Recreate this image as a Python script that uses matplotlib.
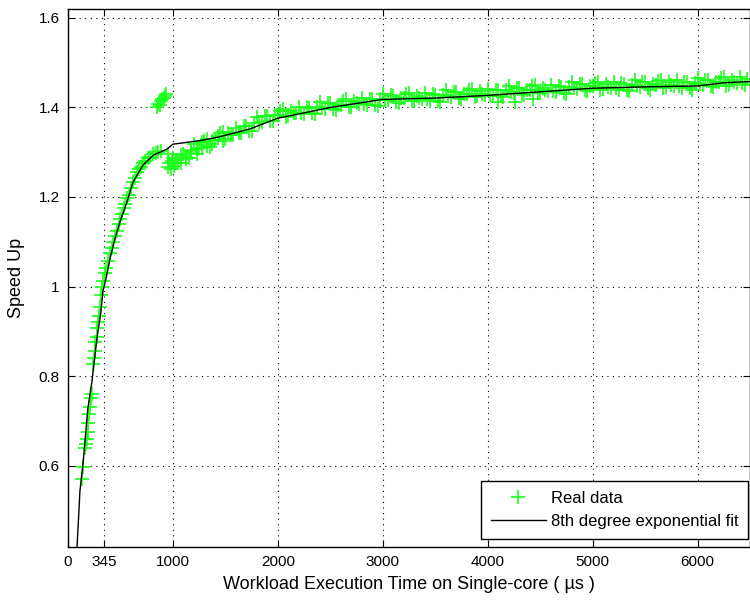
import matplotlib
matplotlib.use("Agg")
import matplotlib.pyplot as plt

# ---- real data: rising part (x in us, speed up) ----
rise_x = [133, 143, 160, 171, 181, 186, 192, 200, 208, 216, 224, 238, 246, 254, 262,
          272, 280, 288, 296, 305, 312, 322, 335, 348, 362, 380, 400, 418, 432, 450,
          467, 482, 498, 514, 530, 548, 565, 582, 600, 618, 636, 655, 675, 695, 715,
          735, 760, 785, 810, 835, 860, 885, 955]
rise_y = [0.571, 0.596, 0.640, 0.648, 0.660, 0.675, 0.695, 0.715, 0.730, 0.750, 0.760,
          0.827, 0.840, 0.855, 0.875, 0.888, 0.907, 0.920, 0.935, 0.955, 0.982, 1.000,
          1.012, 1.030, 1.042, 1.058, 1.075, 1.087, 1.100, 1.112, 1.125, 1.140, 1.150,
          1.162, 1.175, 1.184, 1.198, 1.205, 1.220, 1.233, 1.242, 1.255, 1.262, 1.267,
          1.275, 1.280, 1.286, 1.290, 1.295, 1.298, 1.300, 1.302, 1.296]

# stray cluster around 900 us
stray_x = [850, 862, 875, 888, 900, 912, 925, 935]
stray_y = [1.402, 1.408, 1.405, 1.415, 1.418, 1.422, 1.425, 1.430]

# band start just after 1000 us
start_x = [955, 965, 980, 990, 1010, 1025, 1075, 1125, 1175, 1225, 1275, 1325, 1375,
           1425, 1475]
start_y = [1.268, 1.275, 1.262, 1.280, 1.270, 1.282, 1.276, 1.290, 1.300, 1.295, 1.310,
           1.330, 1.318, 1.335, 1.345]

# main band, first pass
band_x = [1000, 1050, 1100, 1150, 1200, 1250, 1300, 1350, 1400, 1450, 1500, 1550,
          1600, 1650, 1700, 1750, 1800, 1850, 1900, 1950, 2000, 2050, 2100, 2150,
          2200, 2250, 2300, 2350, 2400, 2450, 2500, 2550, 2600, 2650, 2700, 2750,
          2800, 2850, 2900, 2950, 3000, 3050, 3100, 3150, 3200, 3250, 3300, 3350,
          3400, 3450, 3500, 3550, 3600, 3650, 3700, 3750, 3800, 3850, 3900, 3950,
          4000, 4050, 4100, 4150, 4200, 4250, 4300, 4350, 4400, 4450, 4500, 4550,
          4600, 4650, 4700, 4750, 4800, 4850, 4900, 4950, 5000, 5050, 5100, 5150,
          5200, 5250, 5300, 5350, 5400, 5450, 5500, 5550, 5600, 5650, 5700, 5750,
          5800, 5850, 5900, 5950, 6000, 6050, 6100, 6150, 6200, 6250, 6300, 6350,
          6400, 6450]
band_y = [1.288, 1.277, 1.295, 1.286, 1.318, 1.309, 1.324, 1.312, 1.327, 1.342, 1.329,
          1.339, 1.355, 1.342, 1.359, 1.348, 1.378, 1.367, 1.381, 1.369, 1.384, 1.396,
          1.381, 1.388, 1.401, 1.385, 1.399, 1.385, 1.412, 1.397, 1.409, 1.394, 1.406,
          1.418, 1.402, 1.409, 1.422, 1.405, 1.419, 1.404, 1.431, 1.416, 1.426, 1.410,
          1.421, 1.432, 1.415, 1.421, 1.433, 1.415, 1.428, 1.413, 1.439, 1.424, 1.434,
          1.418, 1.430, 1.441, 1.425, 1.430, 1.442, 1.425, 1.438, 1.423, 1.448, 1.433,
          1.444, 1.427, 1.439, 1.450, 1.433, 1.439, 1.451, 1.434, 1.446, 1.431, 1.457,
          1.441, 1.452, 1.436, 1.447, 1.458, 1.441, 1.446, 1.458, 1.440, 1.452, 1.436,
          1.462, 1.446, 1.456, 1.440, 1.451, 1.461, 1.445, 1.450, 1.461, 1.444, 1.456,
          1.440, 1.466, 1.451, 1.462, 1.445, 1.457, 1.467, 1.451, 1.456, 1.468, 1.450]

# main band, second pass (in between)
band2_x = [1025, 1075, 1125, 1175, 1225, 1275, 1325, 1375, 1425, 1475, 1525, 1575,
           1625, 1675, 1725, 1775, 1825, 1875, 1925, 1975, 2025, 2075, 2125, 2175,
           2225, 2275, 2325, 2375, 2425, 2475, 2525, 2575, 2625, 2675, 2725, 2775,
           2825, 2875, 2925, 2975, 3025, 3075, 3125, 3175, 3225, 3275, 3325, 3375,
           3425, 3475, 3525, 3575, 3625, 3675, 3725, 3775, 3825, 3875, 3925, 3975,
           4025, 4075, 4125, 4175, 4225, 4275, 4325, 4375, 4425, 4475, 4525, 4575,
           4625, 4675, 4725, 4775, 4825, 4875, 4925, 4975, 5025, 5075, 5125, 5175,
           5225, 5275, 5325, 5375, 5425, 5475, 5525, 5575, 5625, 5675, 5725, 5775,
           5825, 5875, 5925, 5975, 6025, 6075, 6125, 6175, 6225, 6275, 6325, 6375,
           6425, 6475]
band2_y = [1.277, 1.294, 1.285, 1.304, 1.307, 1.322, 1.313, 1.326, 1.337, 1.326, 1.342,
           1.339, 1.343, 1.358, 1.348, 1.365, 1.366, 1.380, 1.370, 1.383, 1.393, 1.379,
           1.393, 1.387, 1.388, 1.400, 1.387, 1.401, 1.398, 1.409, 1.397, 1.406, 1.415,
           1.400, 1.414, 1.408, 1.408, 1.420, 1.406, 1.420, 1.417, 1.427, 1.413, 1.422,
           1.429, 1.414, 1.426, 1.419, 1.419, 1.429, 1.415, 1.428, 1.425, 1.435, 1.421,
           1.430, 1.438, 1.423, 1.436, 1.428, 1.428, 1.439, 1.425, 1.438, 1.434, 1.444,
           1.431, 1.439, 1.447, 1.432, 1.444, 1.437, 1.437, 1.448, 1.433, 1.446, 1.443,
           1.452, 1.439, 1.448, 1.455, 1.440, 1.452, 1.444, 1.444, 1.454, 1.439, 1.451,
           1.448, 1.457, 1.443, 1.452, 1.459, 1.443, 1.456, 1.448, 1.447, 1.458, 1.443,
           1.455, 1.452, 1.462, 1.449, 1.457, 1.465, 1.449, 1.462, 1.454, 1.454, 1.464]

# odd points below the band
odd_x = [4095, 4257, 4429]
odd_y = [1.413, 1.413, 1.418]

# ---- 8th degree exponential fit ----
fit_x = [86, 100, 114, 143, 162, 190, 229, 276, 314, 333, 371, 400, 448, 495, 562,
         619, 714, 810, 943, 1000, 1133, 1257, 1419, 1733, 2000, 2500, 3000, 3500,
         4000, 4500, 5000, 5500, 6000, 6250, 6500]
fit_y = [0.418, 0.480, 0.544, 0.604, 0.655, 0.729, 0.789, 0.884, 0.944, 0.989, 1.027,
         1.062, 1.107, 1.144, 1.189, 1.233, 1.271, 1.293, 1.307, 1.318, 1.322, 1.326,
         1.333, 1.352, 1.376, 1.400, 1.418, 1.421, 1.427, 1.435, 1.443, 1.446, 1.448,
         1.455, 1.458]

xticks = [0, 345, 1000, 2000, 3000, 4000, 5000, 6000]
yticks = [0.6, 0.8, 1.0, 1.2, 1.4, 1.6]
ytick_labels = ["0.6", "0.8", "1", "1.2", "1.4", "1.6"]

plt.rcParams['font.family'] = ['Liberation Sans', 'DejaVu Sans']

fig = plt.figure(figsize=(7.5, 6.02), dpi=100)
ax = fig.add_axes([68 / 750, 1 - 547 / 602, 1 - 68 / 750, (547 - 9) / 602])

green = '#1aff1a'
mk = dict(linestyle='none', marker='+', color=green, markersize=10, markeredgewidth=1.2)
all_x = rise_x + stray_x + start_x + band_x + band2_x + odd_x
all_y = rise_y + stray_y + start_y + band_y + band2_y + odd_y
ax.plot(all_x, all_y, label='Real data', **mk)
ax.plot(fit_x, fit_y, color='black', linewidth=1.0, label='8th degree exponential fit')

ax.set_xlim(0, 6500)
ax.set_ylim(0.418, 1.62)
ax.set_xticks(xticks)
ax.set_xticklabels([str(t) for t in xticks])
ax.set_yticks(yticks)
ax.set_yticklabels(ytick_labels)
ax.tick_params(direction='in', length=5, top=True, right=True, labelsize=11,
               colors='black', pad=6)
ax.grid(True, color='black', linestyle=(0, (1, 4)), linewidth=0.8)
for s in ax.spines.values():
    s.set_linewidth(1.0)

ax.set_xlabel('Workload Execution Time on Single-core ( \u00b5s )', fontsize=13, labelpad=5)
ax.set_ylabel('Speed Up', fontsize=13, labelpad=10)

leg = ax.legend(loc='lower right', bbox_to_anchor=(0.9975, 0.015), fancybox=False,
                edgecolor='black', framealpha=1, fontsize=12, handlelength=3.3,
                handletextpad=0.3, borderpad=0.6, labelspacing=0.5, borderaxespad=0)
leg.get_frame().set_linewidth(1.0)

fig.savefig('out.png', dpi=100)
